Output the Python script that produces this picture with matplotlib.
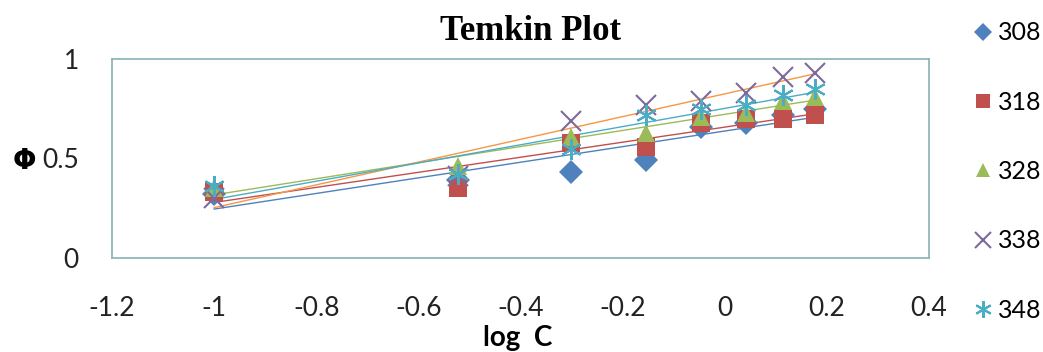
import numpy as np
import matplotlib
matplotlib.use("Agg")
import matplotlib.pyplot as plt

# log C values (C = 0.1, 0.3, 0.5, 0.7, 0.9, 1.1, 1.3, 1.5)
log_c = [-1.0, -0.523, -0.301, -0.155, -0.046, 0.041, 0.114, 0.176]

# surface coverage at each temperature
theta_308 = [0.32, 0.39, 0.43, 0.49, 0.66, 0.68, 0.72, 0.75]
theta_318 = [0.33, 0.35, 0.58, 0.56, 0.68, 0.70, 0.70, 0.72]
theta_328 = [0.35, 0.46, 0.61, 0.63, 0.71, 0.73, 0.79, 0.81]
theta_338 = [0.30, 0.41, 0.69, 0.77, 0.79, 0.83, 0.91, 0.93]
theta_348 = [0.36, 0.42, 0.55, 0.72, 0.75, 0.77, 0.82, 0.85]

labels = ["308", "318", "328", "338", "348"]
x_ticks = [-1.2, -1.0, -0.8, -0.6, -0.4, -0.2, 0.0, 0.2, 0.4]
x_tick_labels = ["-1.2", "-1", "-0.8", "-0.6", "-0.4", "-0.2", "0", "0.2", "0.4"]
y_ticks = [0, 0.5, 1]
y_tick_labels = ["0", "0.5", "1"]

series = [theta_308, theta_318, theta_328, theta_338, theta_348]
marker_colors = ["#4F81BD", "#C0504D", "#9BBB59", "#7E6A9A", "#4BACC6"]
line_colors = ["#4F81BD", "#C0504D", "#9BBB59", "#F79646", "#4BACC6"]
markers = ["D", "s", "^", "x", (6, 2, 0)]
sizes = [12, 13, 13, 15, 15]

plt.rcParams["font.family"] = ["Lato", "DejaVu Sans"]

fig = plt.figure(figsize=(10.43, 3.52), dpi=100)
ax = fig.add_axes([112 / 1043, 1 - 258 / 352, (929 - 112) / 1043, (258 - 59) / 352])

xs = np.array(log_c)
handles = []
for vals, lab, mc, lc, mk, ms in zip(series, labels, marker_colors, line_colors, markers, sizes):
    # linia trendu liniowa, jak w Excelu
    a, b = np.polyfit(xs, vals, 1)
    ax.plot(xs, a * xs + b, color=lc, lw=1.0, zorder=2)
    if mk in ("x", (6, 2, 0)):
        h, = ax.plot(xs, vals, ls="none", marker=mk, color=mc, ms=ms, mew=1.5, label=lab, zorder=3)
    else:
        h, = ax.plot(xs, vals, ls="none", marker=mk, color=mc, ms=ms, mew=0, label=lab, zorder=3)
    handles.append(h)

ax.set_xlim(-1.2, 0.4)
ax.set_ylim(0, 1)
ax.set_xticks(x_ticks)
ax.set_xticklabels(x_tick_labels)
ax.set_yticks(y_ticks)
ax.set_yticklabels(y_tick_labels)
ax.tick_params(axis="x", length=0, pad=27, labelsize=19, colors="#222222")
ax.tick_params(axis="y", length=0, pad=24, labelsize=19, colors="#222222")
for sp in ax.spines.values():
    sp.set_color("#86B3B8")
    sp.set_linewidth(1.2)

fig.text(531 / 1043, 1 - 31 / 352, "Temkin Plot", ha="center", va="center",
         fontsize=25, fontweight="bold", family=["Liberation Serif"])
fig.text(518 / 1043, 1 - 338 / 352, "log  C", ha="center", va="center",
         fontsize=20, fontweight="bold")
fig.text(24 / 1043, 1 - 161 / 352, "Φ", ha="center", va="center",
         fontsize=20, fontweight="bold", family=["DejaVu Sans"])

fig.legend(handles=handles, loc="upper left", bbox_to_anchor=(962 / 1043, 1 - 9 / 352),
           frameon=False, fontsize=18, handlelength=0.7, handletextpad=0.25,
           labelspacing=1.85, borderpad=0, markerscale=0.8)

fig.savefig("out.png", dpi=100)
